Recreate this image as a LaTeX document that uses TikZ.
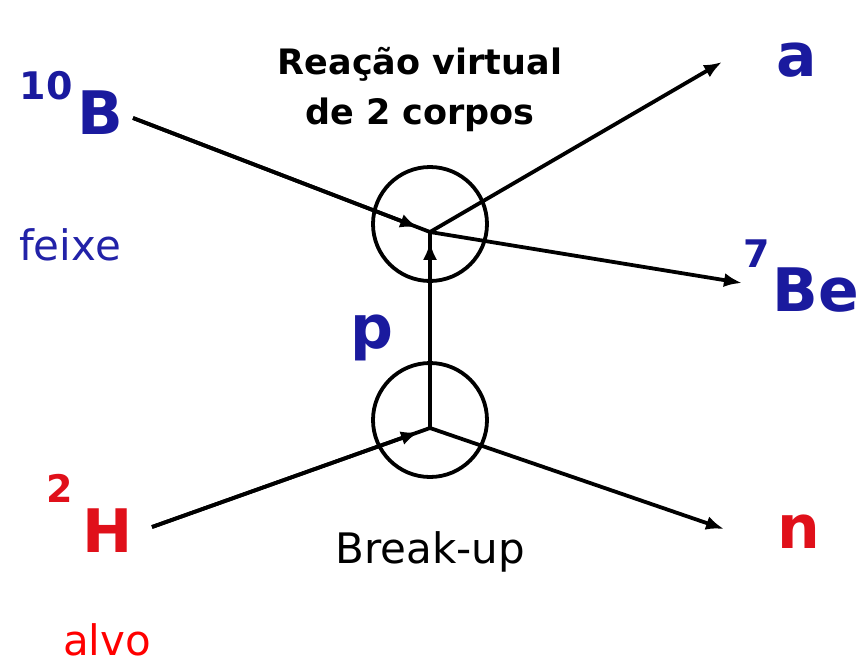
\documentclass[tikz,border=0pt]{standalone}
\usepackage{fontspec}
\setmainfont{DejaVu Sans}
\usetikzlibrary{arrows.meta,calc}
\definecolor{navy}{HTML}{1A1A9E}
\definecolor{feixeblue}{HTML}{2222A8}
\definecolor{hred}{HTML}{E0101A}
\definecolor{alvored}{HTML}{FF0000}
\tikzset{
  conn/.style={line width=3.8pt},
  tip/.style={line width=3.8pt,-{Latex[length=18pt,width=14pt]}},
  ring/.style={circle,draw,line width=3.8pt,minimum size=114pt,inner sep=0pt},
  bluelab/.style={text=navy,font=\bfseries\fontsize{60}{62}\selectfont,inner sep=0pt},
  redlab/.style={text=hred,font=\bfseries\fontsize{60}{62}\selectfont,inner sep=0pt},
  suplab/.style={font=\bfseries\fontsize{38}{40}\selectfont,inner sep=0pt},
  caption/.style={font=\bfseries\fontsize{35}{50}\selectfont,align=center,inner sep=0pt},
  plain/.style={font=\fontsize{42}{44}\selectfont,inner sep=0pt}
}
\begin{document}
\begin{tikzpicture}[x=1pt,y=-1pt]
\useasboundingbox (0,0) rectangle (861,667);
% circles
\node[ring] (c1) at (430,224) {};
\node[ring] (c2) at (430,420) {};
\coordinate (v1) at (430,232);
\coordinate (v2) at (430,428);
% labels
\node[suplab,text=navy] (s10) at (46,86) {10};
\node[bluelab] (B) at (100,113) {B};
\node[plain,text=feixeblue] (feixe) at (70,245) {feixe};
\node[redlab] (H) at (108,531) {H};
\node[suplab,text=hred] (s2) at (60,488) {2};
\node[plain,text=alvored] (alvo) at (107,640) {alvo};
\node[bluelab] (p) at (372,338) {p};
\node[bluelab] (a) at (797,60) {a};
\node[suplab,text=navy] (s7) at (757,254) {7};
\node[bluelab] (Be) at (816,290) {Be};
\node[redlab] (n) at (799,532) {n};
\node[caption] (title) at (420,90) {Reação virtual\\de 2 corpos};
\node[plain] (brk) at (430,552) {Break-up};
% connector ends
\coordinate (bst) at (133,118);
\coordinate (hst) at (152,527);
\coordinate (aend) at (722,62);
\coordinate (beend) at (742,283);
\coordinate (nend) at (724,529);
% connectors
\draw[conn] (bst) -- (v1);
\draw[tip] (bst) -- ($(bst)!0.96!(v1)$);
\draw[tip] (v1) -- (aend);
\draw[tip] (v1) -- (beend);
\draw[conn] (v2) -- (v1);
\draw[tip] (v2) -- ($(v2)!0.95!(v1)$);
\draw[conn] (hst) -- (v2);
\draw[tip] (hst) -- ($(hst)!0.96!(v2)$);
\draw[tip] (v2) -- (nend);
\end{tikzpicture}
\end{document}
